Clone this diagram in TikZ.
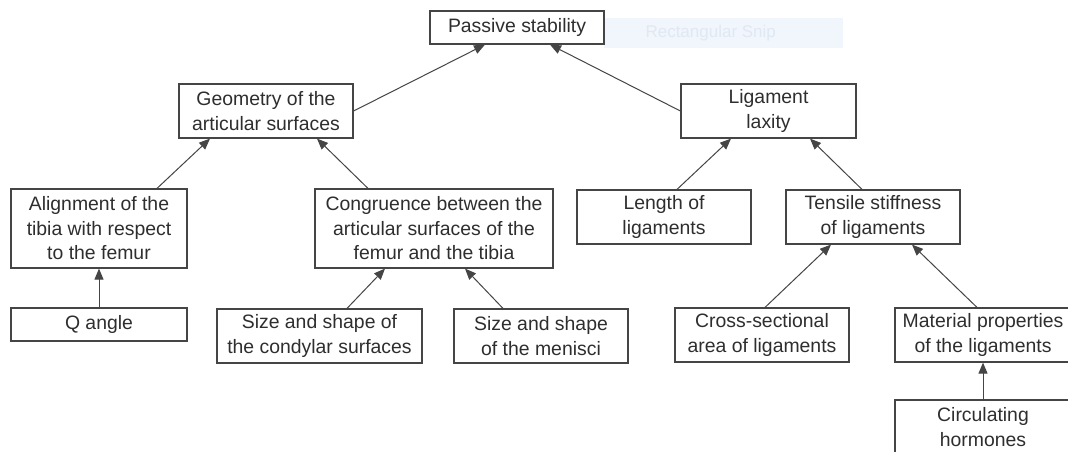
\documentclass[tikz,border=0pt]{standalone}
\usepackage{fontspec}
\setmainfont{Liberation Sans}
\usetikzlibrary{arrows.meta,calc}
\definecolor{ink}{HTML}{2E2E2E}
\definecolor{edge}{HTML}{454545}
\definecolor{snipbg}{HTML}{F1F6FC}
\definecolor{sniptext}{HTML}{E0E8F2}
\begin{document}
\begin{tikzpicture}[x=1pt,y=-1pt,
  box/.style={draw=edge, line width=1.2pt, fill=white, text=ink, align=center,
    inner sep=0pt, font=\fontsize{19.4}{24.5}\selectfont},
  link/.style={draw=edge, line width=1pt, -{Triangle[length=11pt,width=9pt]}}]
\useasboundingbox[fill=white] (0,0) rectangle (1068,451);
% faint screenshot overlay
\fill[snipbg] (604,18) rectangle (843,48);
\node[text=sniptext, font=\fontsize{17}{20}\selectfont, anchor=west] (sniptxt) at (642,33) {Rectangular Snip};
% nodes
\node[box, minimum width=174pt, minimum height=33pt] (ps) at (517,27.5) {Passive stability};
\node[box, minimum width=174pt, minimum height=54pt] (geo) at (266,111) {Geometry of the\\articular surfaces};
\node[box, minimum width=175pt, minimum height=54pt] (lig) at (768.5,111) {Ligament\\laxity};
\node[box, minimum width=176pt, minimum height=79pt] (ali) at (99,228.5) {Alignment of the\\tibia with respect\\to the femur};
\node[box, minimum width=238pt, minimum height=79pt] (con) at (434,228.5) {Congruence between the\\articular surfaces of the\\femur and the tibia};
\node[box, minimum width=174pt, minimum height=54pt] (len) at (664,217) {Length of\\ligaments};
\node[box, minimum width=174pt, minimum height=54pt] (ten) at (873,217) {Tensile stiffness\\of ligaments};
\node[box, minimum width=176pt, minimum height=33pt] (qa) at (99,324.5) {Q angle};
\node[box, minimum width=205pt, minimum height=54pt] (cond) at (319.5,336) {Size and shape of\\the condylar surfaces};
\node[box, minimum width=174pt, minimum height=54pt] (men) at (541,336) {Size and shape\\of the menisci};
\node[box, minimum width=174pt, minimum height=54pt] (cross) at (762,335) {Cross-sectional\\area of ligaments};
\node[box, minimum width=176pt, minimum height=54pt] (mat) at (983,335) {Material properties\\of the ligaments};
\node[box, minimum width=176pt, minimum height=54pt] (circ) at (983,427) {Circulating\\hormones};
% connectors
\draw[link] (geo.east) -- ([xshift=-32pt]ps.south);
\draw[link] (lig.west) -- ([xshift=33pt]ps.south);
\draw[link] ([xshift=58pt]ali.north) -- ([xshift=-56pt]geo.south);
\draw[link] ([xshift=-66pt]con.north) -- ([xshift=51pt]geo.south);
\draw[link] (qa.north) -- (ali.south);
\draw[link] ([xshift=27.5pt]cond.north) -- ([xshift=-49pt]con.south);
\draw[link] ([xshift=-38pt]men.north) -- ([xshift=31pt]con.south);
\draw[link] ([xshift=13pt]len.north) -- ([xshift=-37.5pt]lig.south);
\draw[link] ([xshift=-11pt]ten.north) -- ([xshift=41.5pt]lig.south);
\draw[link] ([xshift=3pt]cross.north) -- ([xshift=-42pt]ten.south);
\draw[link] ([xshift=-6pt]mat.north) -- ([xshift=39pt]ten.south);
\draw[link] (circ.north) -- (mat.south);
\end{tikzpicture}
\end{document}
